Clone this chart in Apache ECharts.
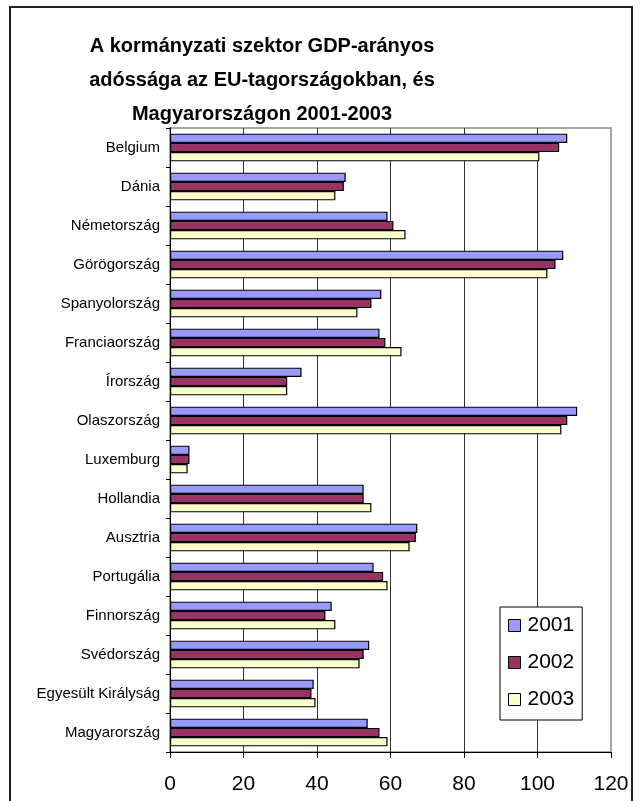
<!DOCTYPE html>
<html>
<head>
<meta charset="utf-8">
<script src="https://cdn.jsdelivr.net/npm/echarts@6/dist/echarts.min.js"></script>
<style>
	html, body { margin: 0; padding: 0; background: #fff; }
	#myChart { width: 640px; height: 801px; }
</style>
</head>
<body>
<div id="myChart"></div>
<script>
	// adatok
	var categories = ['Belgium', 'Dánia', 'Németország', 'Görögország', 'Spanyolország', 'Franciaország',
		'Írország', 'Olaszország', 'Luxemburg', 'Hollandia', 'Ausztria', 'Portugália', 'Finnország',
		'Svédország', 'Egyesült Királyság', 'Magyarország'];
	var years = ['2001', '2002', '2003'];
	var v2001 = [108.1, 47.8, 59.2, 107.0, 57.5, 57.0, 35.8, 110.8, 5.3, 52.7, 67.3, 55.4, 44.0, 54.2, 39.1, 53.8];
	var v2002 = [105.9, 47.3, 60.8, 104.9, 54.8, 58.6, 31.9, 108.1, 5.3, 52.7, 66.9, 58.0, 42.3, 52.7, 38.5, 57.0];
	var v2003 = [100.5, 45.0, 64.1, 102.7, 51.0, 63.0, 31.9, 106.5, 4.8, 54.8, 65.2, 59.2, 45.0, 51.6, 39.6, 59.2];
	var colors = ['#9999ff', '#993366', '#ffffcc'];
	var titleText = 'A kormányzati szektor GDP-arányos\nadóssága az EU-tagországokban, és\nMagyarországon 2001-2003';

	function barSeries(name, data, color) {
		return {
			name: name,
			type: 'bar',
			data: data,
			barGap: 0,
			barCategoryGap: '29%',
			itemStyle: { color: color, borderColor: '#000', borderWidth: 1.2 }
		};
	}

	var myChart = echarts.init(document.getElementById('myChart'));
	myChart.setOption({
		animation: false,
		textStyle: { fontFamily: 'Liberation Sans, Arial, sans-serif', color: '#000' },
		graphic: [{
			type: 'rect',
			shape: { x: 10, y: 7, width: 622, height: 800 },
			style: { fill: 'none', stroke: '#222', lineWidth: 2 },
			silent: true
		}, {
			// cím, a rajzterület fölé középre
			type: 'text',
			x: 262,
			y: 29,
			silent: true,
			style: {
				text: titleText,
				textAlign: 'center',
				fontSize: 20,
				fontWeight: 'bold',
				fontFamily: 'Liberation Sans, Arial, sans-serif',
				lineHeight: 34,
				fill: '#000'
			}
		}],
		legend: {
			orient: 'vertical',
			left: 500,
			top: 607,
			data: years,
			itemWidth: 12,
			itemHeight: 12,
			itemGap: 16,
			padding: [8, 8, 10, 8],
			backgroundColor: '#fff',
			borderColor: '#000',
			borderWidth: 1,
			icon: 'rect',
			itemStyle: { borderColor: '#000', borderWidth: 1 },
			textStyle: { fontSize: 21, color: '#000', padding: [0, 0, 0, 2] }
		},
		grid: {
			left: 170,
			right: 29,
			top: 128,
			bottom: 49,
			show: true,
			borderColor: '#888',
			borderWidth: 1.5
		},
		xAxis: {
			type: 'value',
			min: 0,
			max: 120,
			interval: 20,
			axisLine: { show: true, lineStyle: { color: '#000', width: 1 } },
			axisTick: { show: true, length: 6, lineStyle: { color: '#000' } },
			axisLabel: { fontSize: 21, color: '#000', margin: 22 },
			splitLine: { show: true, showMaxLine: false, lineStyle: { color: '#333', width: 1 } }
		},
		yAxis: {
			type: 'category',
			inverse: true,
			data: categories,
			axisLine: { show: true, lineStyle: { color: '#000', width: 1 } },
			axisTick: { show: true, length: 4, lineStyle: { color: '#000' } },
			axisLabel: { fontSize: 15, color: '#000', margin: 10 }
		},
		series: [
			barSeries(years[0], v2001, colors[0]),
			barSeries(years[1], v2002, colors[1]),
			barSeries(years[2], v2003, colors[2])
		]
	});
</script>
</body>
</html>
